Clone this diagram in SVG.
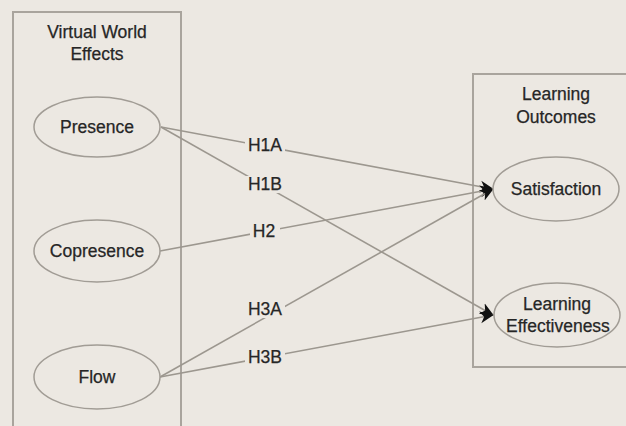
<svg xmlns="http://www.w3.org/2000/svg" width="626" height="426" viewBox="0 0 626 426">
<defs>
<style>
.bg{fill:#ece8e2}
.box{fill:none;stroke:#a9a49d;stroke-width:2}
.node ellipse{fill:#ece8e2;stroke:#a19c95;stroke-width:1.5}
text{font-family:"Liberation Sans",Arial,sans-serif;font-size:17.5px;fill:#262626;stroke:#262626;stroke-width:0.25;text-anchor:middle}
.edge{stroke:#9c978f;stroke-width:1.6;fill:none}
.lbg{fill:#ece8e2}
</style>
<marker id="arr" viewBox="0 0 14 14" refX="13" refY="7" markerWidth="14" markerHeight="14" markerUnits="userSpaceOnUse" orient="auto">
<path d="M0,1 L14,7 L0,13 L4,7 z" fill="#111"/>
</marker>
</defs>
<rect class="bg" x="0" y="0" width="626" height="426"/>
<g id="group-virtual-world">
<rect class="box" x="13" y="12" width="168" height="440"/>
<text x="97" y="38">Virtual World</text>
<text x="97" y="60">Effects</text>
</g>
<g id="group-learning-outcomes">
<rect class="box" x="473" y="74" width="170" height="293"/>
<text x="556" y="100">Learning</text>
<text x="556" y="123">Outcomes</text>
</g>
<g id="connectors">
<line class="edge" x1="161" y1="127" x2="493" y2="189" marker-end="url(#arr)"/>
<line class="edge" x1="161" y1="127" x2="493" y2="315" marker-end="url(#arr)"/>
<line class="edge" x1="160" y1="251" x2="493" y2="189" marker-end="url(#arr)"/>
<line class="edge" x1="160" y1="377" x2="493" y2="189" marker-end="url(#arr)"/>
<line class="edge" x1="160" y1="377" x2="493" y2="315" marker-end="url(#arr)"/>
<rect class="lbg" x="245" y="137" width="40" height="17"/>
<text x="265" y="151">H1A</text>
<rect class="lbg" x="245" y="176" width="40" height="17"/>
<text x="265" y="190">H1B</text>
<rect class="lbg" x="250" y="223" width="30" height="17"/>
<text x="264" y="237">H2</text>
<rect class="lbg" x="245" y="301" width="40" height="17"/>
<text x="265" y="315">H3A</text>
<rect class="lbg" x="245" y="349" width="40" height="17"/>
<text x="265" y="363">H3B</text>
</g>
<g id="node-presence" class="node">
<ellipse cx="97" cy="127" rx="63" ry="30"/>
<text x="97" y="133">Presence</text>
</g>
<g id="node-copresence" class="node">
<ellipse cx="97" cy="251" rx="63" ry="31"/>
<text x="97" y="257">Copresence</text>
</g>
<g id="node-flow" class="node">
<ellipse cx="97" cy="377" rx="63" ry="32"/>
<text x="97" y="383">Flow</text>
</g>
<g id="node-satisfaction" class="node">
<ellipse cx="556" cy="189" rx="63" ry="32"/>
<text x="556" y="195">Satisfaction</text>
</g>
<g id="node-learning-effectiveness" class="node">
<ellipse cx="557" cy="315" rx="63" ry="32"/>
<text x="557" y="310">Learning</text>
<text x="558" y="332">Effectiveness</text>
</g>
</svg>
